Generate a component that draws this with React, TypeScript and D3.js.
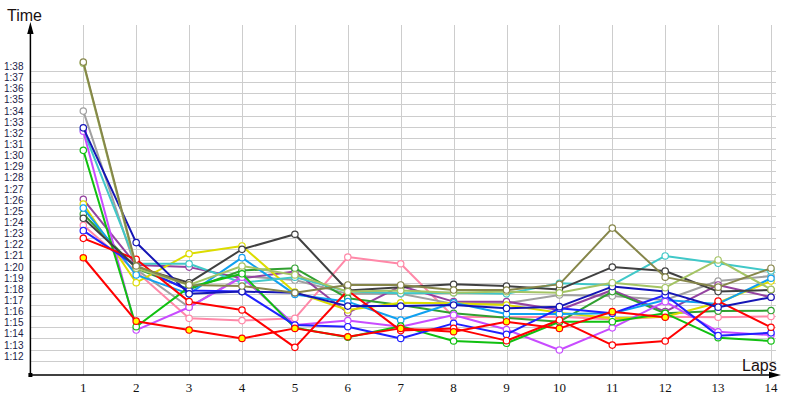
import React from "react";
import * as d3 from "d3";

// Laps on the x axis
const laps = [1, 2, 3, 4, 5, 6, 7, 8, 9, 10, 11, 12, 13, 14];
// Y ticks in seconds (1:12 .. 1:38)
const yTicks = [72, 73, 74, 75, 76, 77, 78, 79, 80, 81, 82, 83, 84, 85, 86, 87, 88, 89, 90, 91, 92, 93, 94, 95, 96, 97, 98];
const yTickLabels = ["1:12", "1:13", "1:14", "1:15", "1:16", "1:17", "1:18", "1:19", "1:20", "1:21", "1:22", "1:23", "1:24", "1:25", "1:26", "1:27", "1:28", "1:29", "1:30", "1:31", "1:32", "1:33", "1:34", "1:35", "1:36", "1:37", "1:38"];

// Lap times in seconds, per driver
const pinkTimes = [84.15, 80.0, 75.8, 75.6, 75.8, 81.3, 80.7, 75.95, 75.9, 75.95, 75.7, 75.95, 75.9, 75.97];
const grayTimes = [94.4, 80.2, 76.8, 79.6, 79.24, 78.0, 78.0, 77.1, 77.15, 77.9, 77.8, 77.45, 79.15, 79.6];
const purpleTimes = [86.48, 80.6, 80.4, 79.4, 80.0, 76.3, 78.7, 77.3, 77.3, 76.55, 78.34, 76.4, 78.8, 77.7];
const darkGreenTimes = [85.17, 80.3, 78.4, 80.1, 80.3, 77.6, 77.0, 76.25, 75.85, 75.5, 78.2, 76.25, 76.45, 76.5];
const yellowTimes = [86.06, 79.0, 81.6, 82.3, 78.15, 76.55, 77.2, 77.15, 77.0, 76.3, 75.8, 75.95, 77.2, 79.15];
const lightBlueTimes = [85.7, 79.7, 78.0, 81.25, 77.95, 77.3, 75.65, 77.2, 76.2, 76.2, 76.25, 77.45, 77.1, 79.4];
const cyanTimes = [92.7, 80.7, 80.7, 79.0, 79.5, 78.2, 78.05, 78.1, 78.0, 78.95, 78.8, 81.4, 80.74, 80.05];
const magentaTimes = [92.6, 74.75, 76.8, 79.5, 75.2, 75.6, 75.05, 76.1, 74.8, 72.96, 74.95, 77.3, 74.6, 74.3];
const greenTimes = [90.88, 75.05, 78.6, 79.8, 74.95, 74.1, 75.1, 73.77, 73.56, 75.5, 75.5, 76.25, 74.07, 73.77];
const blueTimes = [83.67, 80.5, 78.3, 78.2, 75.2, 75.05, 74.0, 75.35, 74.36, 76.7, 76.25, 77.9, 74.25, 74.5];
const redTimes = [82.98, 81.1, 77.3, 76.55, 73.2, 78.3, 74.7, 74.9, 73.8, 75.65, 73.4, 73.77, 77.35, 75.0];
const blackTimes = [84.78, 80.4, 79.0, 82.0, 83.35, 78.3, 78.6, 78.86, 78.7, 78.4, 80.4, 80.05, 78.2, 78.35];
const navyTimes = [92.9, 82.6, 78.0, 78.2, 78.1, 76.9, 76.9, 77.0, 76.7, 76.85, 78.65, 78.2, 76.8, 77.7];
const lightGreenTimes = [98.7, 80.3, 78.8, 80.5, 79.7, 78.2, 78.3, 78.1, 78.2, 78.1, 79.0, 78.55, 81.04, 78.4];
const oliveTimes = [98.8, 80.5, 78.8, 78.7, 78.1, 78.8, 78.8, 78.34, 78.34, 78.85, 83.9, 79.5, 78.6, 80.3];
const redYellowTimes = [81.24, 75.55, 74.75, 74.0, 74.9, 74.15, 74.9, 74.6, 75.5, 74.9, 76.4, 75.9, null, null];

const seriesColors = ["#ff88a8", "#a0a0a0", "#9442a0", "#30a030", "#dcdc00", "#10a0f0", "#40c8c8", "#c84cff", "#10c010", "#2020ff", "#ff0000", "#404040", "#1515b5", "#a4c464", "#86864a", "#ff0000"];
const seriesFills = ["#ffffff", "#ffffff", "#ffffff", "#ffffff", "#ffffff", "#ffffff", "#ffffff", "#ffffff", "#ffffff", "#ffffff", "#ffffff", "#ffffff", "#ffffff", "#ffffff", "#ffffff", "#ffff00"];
const seriesData = [pinkTimes, grayTimes, purpleTimes, darkGreenTimes, yellowTimes, lightBlueTimes, cyanTimes, magentaTimes, greenTimes, blueTimes, redTimes, blackTimes, navyTimes, lightGreenTimes, oliveTimes, redYellowTimes];

export default function App() {
  const W = 800, H = 400;
  const x = d3.scaleLinear().domain([0, 14]).range([30.4, 771]);
  const y = d3.scaleLinear().domain([72, 98]).range([360.7, 71]);
  const x0 = x(0);
  const yBase = 375;
  const gridRight = 776;

  const line = d3
    .line<number | null>()
    .defined((d) => d !== null)
    .x((_, i) => x(laps[i]))
    .y((d) => y(d as number));

  return (
    <svg width={W} height={H} style={{ position: "absolute", left: 0, top: 0, background: "#fff" }}>
      {/* horizontal grid */}
      {yTicks.map((t) => (
        <line key={"h" + t} x1={x0} x2={gridRight} y1={Math.round(y(t)) + 0.5} y2={Math.round(y(t)) + 0.5} stroke="#cdcdcd" strokeWidth={1} />
      ))}
      {/* vertical grid */}
      {laps.map((l) => (
        <line key={"v" + l} x1={Math.round(x(l)) + 0.5} x2={Math.round(x(l)) + 0.5} y1={25} y2={yBase} stroke="#cdcdcd" strokeWidth={1} />
      ))}
      {/* y tick labels */}
      {yTicks.map((t, i) => (
        <text key={"yl" + t} x={4} y={y(t) - 1} fontFamily="Liberation Sans, Arial, sans-serif" fontSize={10} fill="#1c1c48">
          {yTickLabels[i]}
        </text>
      ))}
      {/* x tick labels */}
      {laps.map((l) => (
        <text key={"xl" + l} x={x(l)} y={392} textAnchor="middle" fontFamily="Liberation Serif, Times New Roman, serif" fontSize={13} fill="#111">
          {l}
        </text>
      ))}
      {/* series */}
      {seriesData.map((vals, si) => (
        <g key={"s" + si}>
          <path d={line(vals) || ""} fill="none" stroke={seriesColors[si]} strokeWidth={2} strokeLinejoin="round" />
          {vals.map((v, i) =>
            v === null ? null : (
              <circle key={i} cx={x(laps[i])} cy={y(v)} r={3.2} fill={seriesFills[si]} stroke={seriesColors[si]} strokeWidth={1.2} />
            )
          )}
        </g>
      ))}
      {/* axes */}
      <line x1={x0} x2={x0} y1={yBase} y2={32} stroke="#000" strokeWidth={1.5} />
      <path d={`M${x0},22 L${x0 - 3.2},34 L${x0 + 3.2},34 Z`} fill="#000" />
      <line x1={x0} x2={770} y1={yBase} y2={yBase} stroke="#000" strokeWidth={1.5} />
      <path d={`M781,${yBase} L769,${yBase - 3.2} L769,${yBase + 3.2} Z`} fill="#000" />
      <rect x={x0 - 2} y={yBase - 2} width={4} height={4} fill="#000" />
      <text x={7} y={20.5} fontFamily="Liberation Sans, Arial, sans-serif" fontSize={16} fill="#1a1010">Time</text>
      <text x={742} y={371} fontFamily="Liberation Sans, Arial, sans-serif" fontSize={16} fill="#1a1010">Laps</text>
    </svg>
  );
}
